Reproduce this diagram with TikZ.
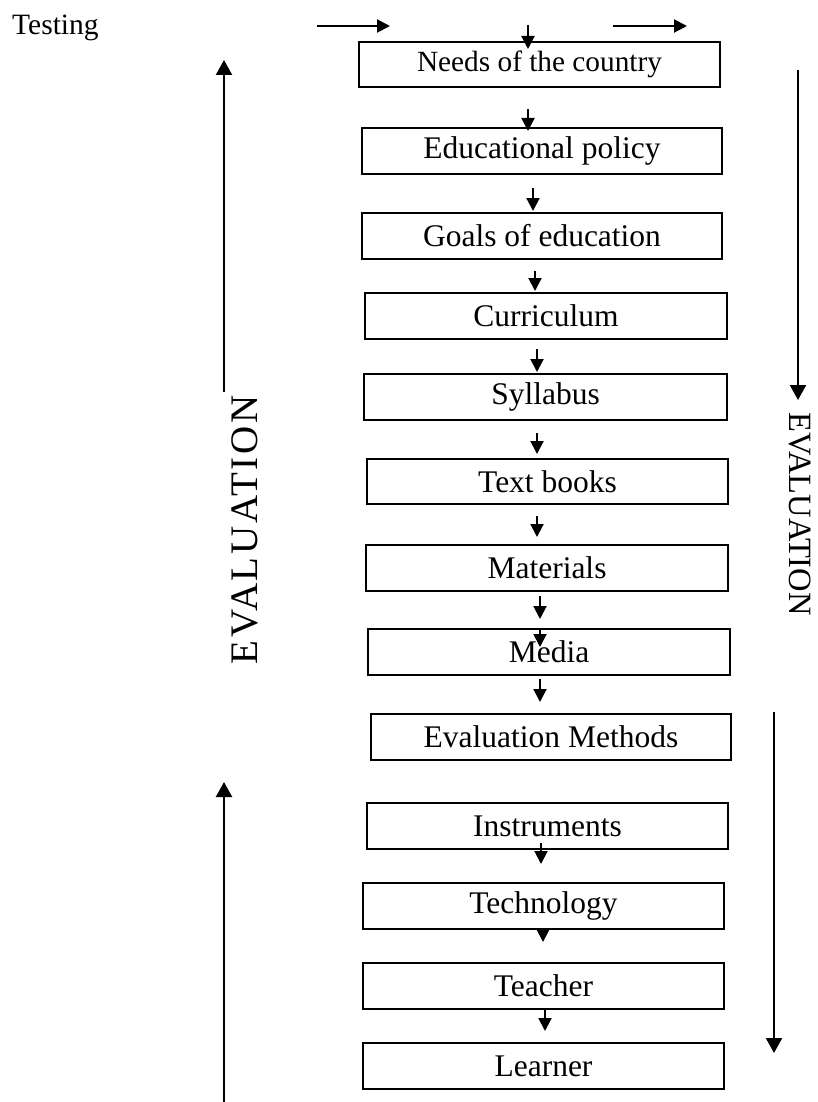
\documentclass[tikz,border=0pt]{standalone}
\usepackage{fontspec}
\setmainfont{Liberation Serif}
\usetikzlibrary{arrows.meta,calc}
\begin{document}
\begin{tikzpicture}[x=1pt,y=-1pt,
  box/.style={draw, line width=2pt, rectangle, minimum height=46pt, minimum width=361pt, inner sep=0pt, font=\fontsize{31.5}{36}\selectfont},
  arr/.style={line width=2pt, -{Triangle[length=13pt,width=13pt]}},
  big/.style={line width=2.2pt, -{Triangle[length=15pt,width=16pt]}},
  evallabel/.style={inner sep=0pt}]
\useasboundingbox (0,0) rectangle (818,1102);

% boxes
\node[box, minimum height=45pt, font=\fontsize{29.3}{34}\selectfont] (needs) at (539.5,64.5) {Needs of the country};
\node[box, minimum width=360pt] (policy) at (542,151) {Educational policy};
\node[box, minimum width=360pt] (goals) at (542,236) {Goals of education};
\node[box, minimum width=362pt] (curr) at (546,316) {Curriculum};
\node[box, minimum width=363pt] (syll) at (545.5,397) {Syllabus};
\node[box, minimum height=45pt] (text) at (547.5,481.5) {Text books};
\node[box, minimum width=362pt] (mat) at (547,568) {Materials};
\node[box, minimum width=362pt] (media) at (549,652) {Media};
\node[box, minimum width=360pt] (evalm) at (551,737) {Evaluation Methods};
\node[box] (instr) at (547.5,826) {Instruments};
\node[box] (tech) at (543.5,906) {Technology};
\node[box] (teacher) at (543.5,986) {Teacher};
\node[box] (learner) at (543.5,1066) {Learner};

% labels
\node[anchor=base west, inner sep=0pt, font=\fontsize{29.5}{34}\selectfont] (testing) at (12,35) {Testing};
\node[evallabel, rotate=90, font=\fontsize{39}{46}\selectfont\addfontfeature{LetterSpace=7}] (evalL) at (245,530) {EVALUATION};
\node[evallabel, rotate=-90, font=\fontsize{32.5}{38}\selectfont] (evalR) at (800,514) {EVALUATION};

% free coordinates
\coordinate (topin) at (528,25);
\coordinate (h1a) at (317,26);
\coordinate (h1b) at (390,26);
\coordinate (h2a) at (613,26);
\coordinate (h2b) at (687,26);
\coordinate (l1a) at (224,392);
\coordinate (l1b) at (224,60);
\coordinate (l2a) at (224,1102);
\coordinate (l2b) at (224,782);
\coordinate (r1a) at (798,70);
\coordinate (r1b) at (798,400);
\coordinate (r2a) at (774,712);
\coordinate (r2b) at (774,1053);

% chain arrows
\draw[arr] (topin) -- ([shift={(-11.5,8)}]needs.north);
\draw[arr] ([shift={(-11.5,21)}]needs.south) -- ([shift={(-14,4)}]policy.north);
\draw[arr] ([shift={(-9,13)}]policy.south) -- ([shift={(-9,-1)}]goals.north);
\draw[arr] ([shift={(-7,11)}]goals.south) -- ([shift={(-11,-1)}]curr.north);
\draw[arr] ([shift={(-9,9)}]curr.south) -- ([shift={(-8.5,-1)}]syll.north);
\draw[arr] ([shift={(-8.5,12)}]syll.south) -- ([shift={(-10.5,-4)}]text.north);
\draw[arr] ([shift={(-10.5,11)}]text.south) -- ([shift={(-10,-7)}]mat.north);
\draw[arr] ([shift={(-7,4)}]mat.south) -- ([shift={(-9,-9)}]media.north);
\draw[arr] ([shift={(-9,1)}]media.north) -- ([shift={(-9,19)}]media.north);
\draw[arr] ([shift={(-9,3)}]media.south) -- ([shift={(-11,-11)}]evalm.north);
\draw[arr] ([shift={(-6.5,-7)}]instr.south) -- ([shift={(-2.5,-18)}]tech.north);
\draw[arr] ([shift={(-0.5,-2)}]tech.south) -- ([shift={(-0.5,-20)}]teacher.north);
\draw[arr] ([shift={(1.5,-1)}]teacher.south) -- ([shift={(1.5,-11)}]learner.north);

% horizontal arrows
\draw[arr] (h1a) -- (h1b);
\draw[arr] (h2a) -- (h2b);

% big evaluation arrows
\draw[big] (l1a) -- (l1b);
\draw[big] (l2a) -- (l2b);
\draw[big] (r1a) -- (r1b);
\draw[big] (r2a) -- (r2b);
\end{tikzpicture}
\end{document}
